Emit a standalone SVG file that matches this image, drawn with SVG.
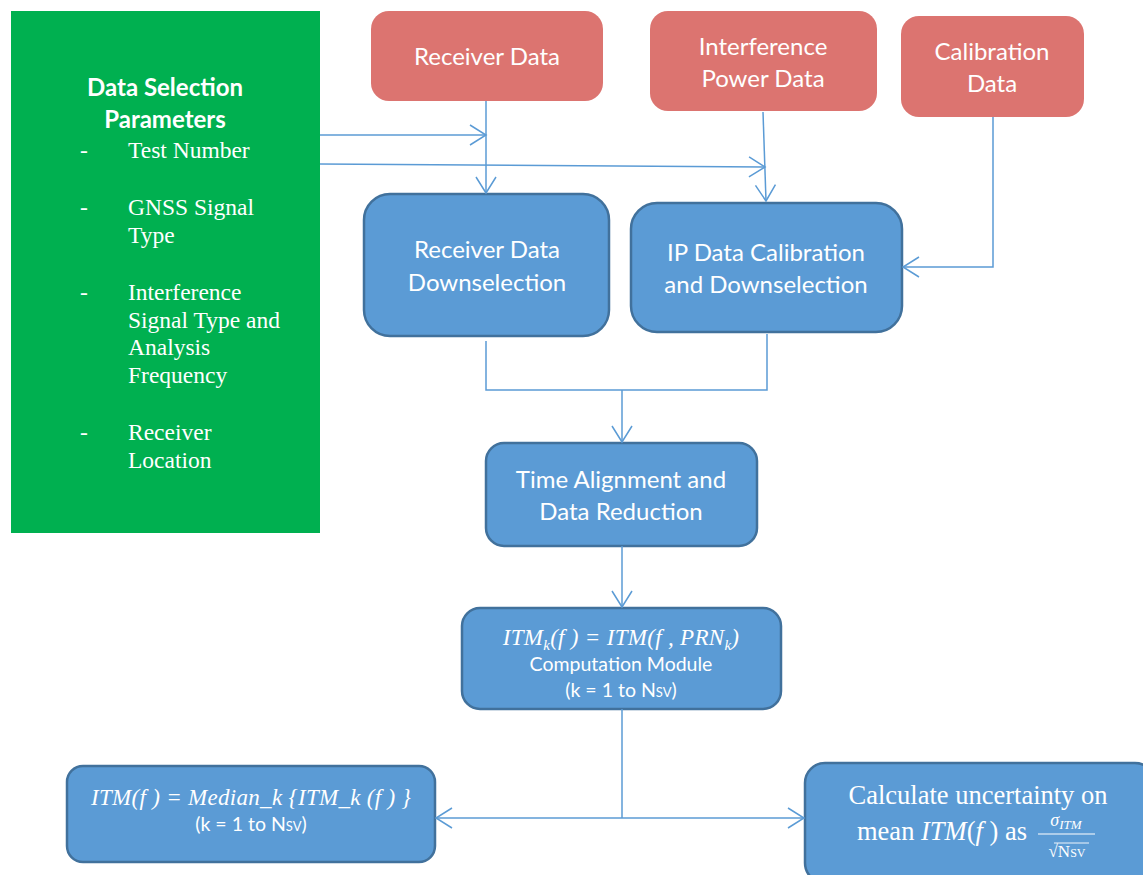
<svg xmlns="http://www.w3.org/2000/svg" width="1143" height="875" viewBox="0 0 1143 875">
<style>
.red{fill:#DC7470;}
.blue{fill:#5B9BD5;stroke:#41719C;stroke-width:2.5;}
.t{font-family:Lato,"Open Sans",sans-serif;font-size:24px;fill:#fff;text-anchor:middle;}
.s{font-family:Lato,"Open Sans",sans-serif;font-size:19.5px;fill:#fff;text-anchor:middle;}
.m{font-family:"Liberation Serif","DejaVu Serif",serif;font-style:italic;font-size:23px;letter-spacing:0.3px;fill:#fff;text-anchor:middle;}
.tr{font-family:"Liberation Serif",serif;font-size:23.5px;fill:#fff;}
.c{fill:none;stroke:#5B9BD5;stroke-width:1.5;}
</style>
<defs>
<marker id="a" markerUnits="userSpaceOnUse" markerWidth="20" markerHeight="24" refX="17" refY="11" orient="auto" viewBox="0 0 20 22">
<path d="M1,1 L17,11 L1,21" fill="none" stroke="#5B9BD5" stroke-width="1.5"/>
</marker>
</defs>
<rect width="1143" height="875" fill="#fff"/>

<g id="params">
<rect x="11" y="11" width="309" height="522" fill="#00B050"/>
<text x="165" y="96" class="t" style="font-weight:bold;font-size:24px">Data Selection</text>
<text x="165" y="128" class="t" style="font-weight:bold;font-size:24px">Parameters</text>
<g class="tr">
<text x="80" y="158">-</text><text x="128" y="158">Test Number</text>
<text x="80" y="215">-</text><text x="128" y="215">GNSS Signal</text>
<text x="128" y="243">Type</text>
<text x="80" y="300">-</text><text x="128" y="300">Interference</text>
<text x="128" y="328">Signal Type and</text>
<text x="128" y="355">Analysis</text>
<text x="128" y="383">Frequency</text>
<text x="80" y="440">-</text><text x="128" y="440">Receiver</text>
<text x="128" y="468">Location</text>
</g>
</g>

<g id="receiver-data">
<rect x="371" y="11" width="232" height="90" rx="18" class="red"/>
<text x="487" y="65" class="t">Receiver Data</text>
</g>
<g id="interference-data">
<rect x="650" y="11" width="227" height="100" rx="18" class="red"/>
<text x="763" y="55" class="t">Interference</text>
<text x="763" y="87" class="t">Power Data</text>
</g>
<g id="calibration-data">
<rect x="901" y="16" width="183" height="101" rx="18" class="red"/>
<text x="992" y="60" class="t">Calibration</text>
<text x="992" y="92" class="t">Data</text>
</g>

<g id="rdd">
<rect x="364" y="194" width="245" height="142" rx="26" class="blue"/>
<text x="487" y="258" class="t">Receiver Data</text>
<text x="487" y="291" class="t">Downselection</text>
</g>
<g id="ipd">
<rect x="631" y="203" width="271" height="129" rx="26" class="blue"/>
<text x="766" y="261" class="t">IP Data Calibration</text>
<text x="766" y="293" class="t">and Downselection</text>
</g>
<g id="time-align">
<rect x="486" y="443" width="271" height="103" rx="18" class="blue"/>
<text x="621" y="488" class="t">Time Alignment and</text>
<text x="621" y="520" class="t">Data Reduction</text>
</g>
<g id="itm-module">
<rect x="462" y="608" width="319" height="101" rx="18" class="blue"/>
<text x="621" y="645" class="m">ITM<tspan font-size="15" dy="5">k</tspan><tspan dy="-5">(f ) = ITM(f , PRN</tspan><tspan font-size="15" dy="5">k</tspan><tspan dy="-5">)</tspan></text>
<text x="621" y="671" class="s">Computation Module</text>
<text x="621" y="697" class="s">(k = 1 to N<tspan font-size="13">SV</tspan>)</text>
</g>
<g id="itm-median">
<rect x="67" y="766" width="368" height="96" rx="16" class="blue"/>
<text x="251" y="805" class="m">ITM(f ) = Median_k {ITM_k (f ) }</text>
<text x="251" y="831" class="s">(k = 1 to N<tspan font-size="13">SV</tspan>)</text>
</g>
<g id="uncertainty">
<rect x="805" y="763" width="350" height="120" rx="20" class="blue"/>
<text x="978" y="804" class="tr" style="font-size:26.5px;text-anchor:middle">Calculate uncertainty on</text>
<text x="857" y="840" class="tr" style="font-size:26.5px">mean <tspan font-style="italic">ITM</tspan>(<tspan font-style="italic">f</tspan> ) as</text>
<text x="1066" y="826" class="m" style="font-size:18px;letter-spacing:0">σ<tspan font-size="13" dy="3">ITM</tspan></text>
<line x1="1038" y1="834" x2="1095" y2="834" stroke="#fff" stroke-width="1.2"/>
<text x="1067" y="857" class="tr" style="font-size:17px;text-anchor:middle">√N<tspan font-size="12">SV</tspan></text>
<line x1="1054" y1="843" x2="1089" y2="843" stroke="#fff" stroke-width="0.9"/>
</g>

<g id="connectors" class="c">
<path d="M320,135 H486" marker-end="url(#a)"/>
<path d="M320,164 L765,167" marker-end="url(#a)"/>
<path d="M486,101 V193" marker-end="url(#a)"/>
<path d="M763,112 L766,201" marker-end="url(#a)"/>
<path d="M993,117 V267 H903" marker-end="url(#a)"/>
<path d="M486,341 V390 H767 V334"/>
<path d="M622,390 V442" marker-end="url(#a)"/>
<path d="M622,546 V607" marker-end="url(#a)"/>
<path d="M622,709 V818"/>
<path d="M622,818 H436" marker-end="url(#a)"/>
<path d="M622,818 H804" marker-end="url(#a)"/>
</g>
</svg>
